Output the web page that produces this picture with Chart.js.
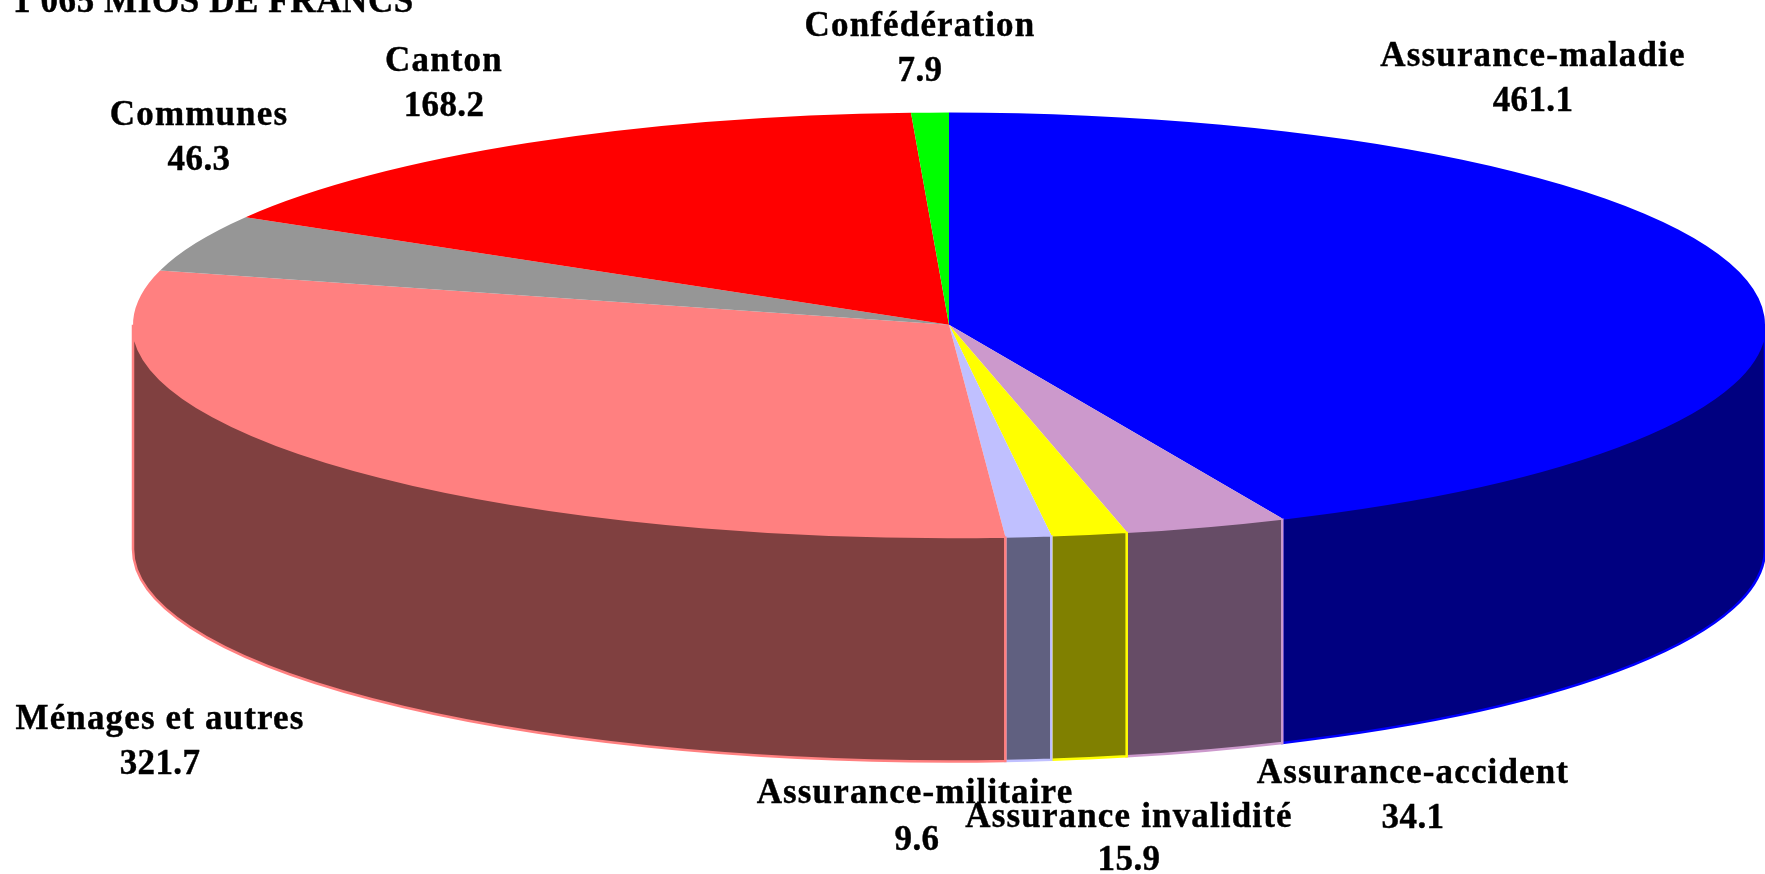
<!DOCTYPE html>
<html><head><meta charset="utf-8">
<style>html,body{margin:0;padding:0;background:#fff;overflow:hidden}canvas{display:block}</style>
<script src="https://cdn.jsdelivr.net/npm/chart.js@4"></script>
</head><body><canvas id="c" width="1765" height="874"></canvas>
<script>
const titleText = "1 065 MIOS DE FRANCS";
const categories = ["Assurance-maladie","Assurance-accident","Assurance invalidité","Assurance-militaire","Ménages et autres","Communes","Canton","Confédération"];
const values = [461.1,34.1,15.9,9.6,321.7,46.3,168.2,7.9];
const topColors = ["#0000ff","#cc99cc","#ffff00","#c0c0ff","#ff8080","#969696","#ff0000","#00ff00"];
const wallColors = ["#000080","#664c66","#808000","#606080","#804040","#4b4b4b","#800000","#008000"];
const labelCenterX = [1533,1413,1129,915,160,199,444,920];
const valueCenterX = [1533,1413,1129,917,160,199,444,920];
const labelBaselineY = [66,783,827,803,729,125,71,36];
const valueBaselineY = [111,828,870,850,774,170,116,81];
const RX = 816, SQUASH = 0.26, DEPTH = 224.5;
const FONT = 'bold 35px "Liberation Serif"';

const pie3d = {
  id:'pie3d',
  beforeDatasetsDraw(chart){
    const ctx = chart.ctx, arcs = chart.getDatasetMeta(0).data;
    const TAU = Math.PI*2;
    const pt = (a,x,y,r,d)=>[x+r*Math.cos(a), y+r*SQUASH*Math.sin(a)+d];
    arcs.forEach((arc,i)=>{
      const {x,y,outerRadius:r,startAngle,endAngle} = arc.getProps(['x','y','outerRadius','startAngle','endAngle'],true);
      for(const k of [-1,0,1]){
        const a0 = Math.max(startAngle, k*TAU), a1 = Math.min(endAngle, k*TAU+Math.PI);
        if(a1<=a0) continue;
        ctx.beginPath();
        ctx.ellipse(x,y,r,r*SQUASH,0,a0,a1,false);
        ctx.lineTo(...pt(a1,x,y,r,DEPTH));
        ctx.ellipse(x,y+DEPTH,r,r*SQUASH,0,a1,a0,true);
        ctx.closePath();
        ctx.fillStyle = wallColors[i];
        ctx.fill();
        ctx.strokeStyle = topColors[i];
        ctx.lineWidth = 2.5;
        ctx.stroke();
      }
    });
    const c = arcs[0];
    ctx.save();
    ctx.translate(c.x,c.y);
    ctx.scale(1,SQUASH);
    ctx.translate(-c.x,-c.y);
  },
  afterDatasetsDraw(chart){
    const ctx = chart.ctx;
    ctx.restore();
    ctx.save();
    ctx.fillStyle = '#000';
    ctx.strokeStyle = '#000';
    ctx.lineWidth = 0.4;
    ctx.font = FONT;
    const put = (t,x,y)=>{ctx.fillText(t,x,y);ctx.strokeText(t,x,y);};
    ctx.textBaseline = 'alphabetic';
    ctx.textAlign = 'left';
    ctx.letterSpacing = '0.6px';
    put(titleText, 13, 12);
    ctx.textAlign = 'center';
    categories.forEach((name,i)=>{
      ctx.letterSpacing = '1.15px';
      put(name, labelCenterX[i], labelBaselineY[i]);
      ctx.letterSpacing = '0.4px';
      put(values[i].toFixed(1), valueCenterX[i], valueBaselineY[i]);
    });
    ctx.restore();
  }
};

new Chart(document.getElementById('c'),{
  type:'pie',
  data:{labels:categories,datasets:[{data:values,backgroundColor:topColors,borderWidth:0,radius:RX,clip:false}]},
  options:{
    responsive:false,animation:false,
    layout:{padding:{left:133,right:0,top:0,bottom:224.5}},
    plugins:{legend:{display:false},tooltip:{enabled:false},title:{display:false}}
  },
  plugins:[pie3d]
});
</script></body></html>
